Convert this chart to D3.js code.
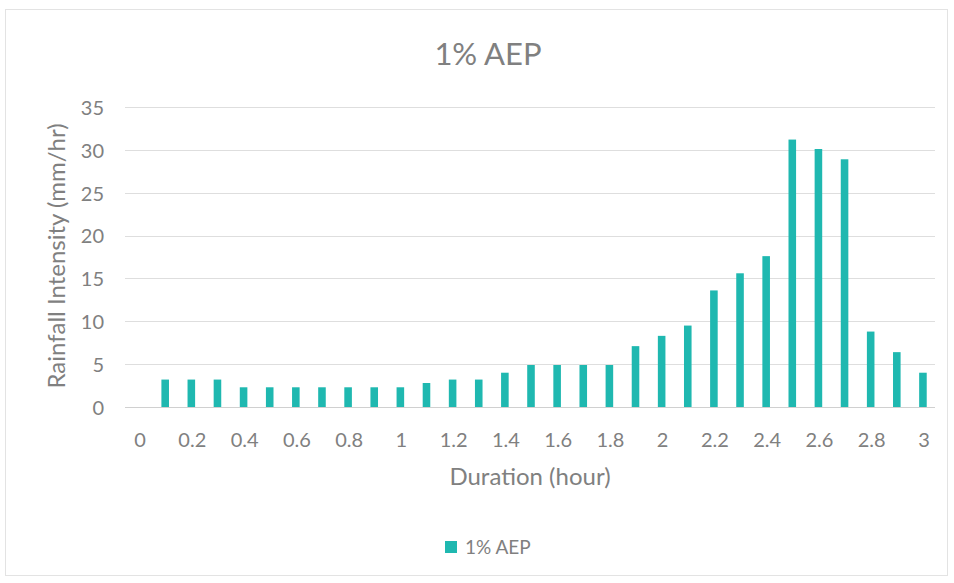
<!DOCTYPE html>
<html>
<head>
<meta charset="utf-8">
<script src="https://cdn.jsdelivr.net/npm/d3@7"></script>
<style>
  html, body { margin: 0; padding: 0; background: #fff; }
  svg { display: block; }
  text { font-family: Lato, "Open Sans", sans-serif; fill: #808080; }
</style>
</head>
<body>
<svg id="chart" width="954" height="583"></svg>
<script>
// Duration categories (hours) and 1% AEP rainfall intensity (mm/hr)
const durations = ["0","0.1","0.2","0.3","0.4","0.5","0.6","0.7","0.8","0.9","1",
  "1.1","1.2","1.3","1.4","1.5","1.6","1.7","1.8","1.9","2",
  "2.1","2.2","2.3","2.4","2.5","2.6","2.7","2.8","2.9","3"];
const intensity = [0, 3.2, 3.2, 3.2, 2.3, 2.3, 2.3, 2.3, 2.3, 2.3, 2.3,
  2.8, 3.2, 3.2, 4.0, 4.9, 4.9, 4.9, 4.9, 7.1, 8.3,
  9.5, 13.6, 15.6, 17.6, 31.2, 30.1, 28.9, 8.8, 6.4, 4.0];
const yTicks = [0, 5, 10, 15, 20, 25, 30, 35];
const xLabelEvery = 2;
const seriesName = "1% AEP";

const svg = d3.select("#chart");
const margin = { left: 125, right: 19, top: 107, bottom: 176 };
const W = 954, H = 583;

// Chart frame
svg.append("rect")
  .attr("x", 5.5).attr("y", 9.5).attr("width", 942).attr("height", 566)
  .attr("fill", "#fff").attr("stroke", "#e3e3e3").attr("stroke-width", 1);

const x = d3.scaleBand()
  .domain(durations)
  .range([margin.left, W - margin.right])
  .paddingInner(0.71).paddingOuter(0.355);

const y = d3.scaleLinear()
  .domain([0, 35])
  .range([H - margin.bottom, margin.top]);

// Horizontal gridlines
svg.append("g")
  .selectAll("line")
  .data(yTicks)
  .join("line")
  .attr("x1", margin.left).attr("x2", W - margin.right)
  .attr("y1", d => Math.round(y(d)) + 0.5).attr("y2", d => Math.round(y(d)) + 0.5)
  .attr("stroke", d => d === 0 ? "#d0d0d0" : "#dedede")
  .attr("stroke-width", 1.2);

// Y axis tick labels
const yAxis = d3.axisLeft(y).tickValues(yTicks).tickSize(0).tickPadding(0);
svg.append("g")
  .attr("transform", `translate(${margin.left - 21},1)`)
  .call(yAxis)
  .call(g => g.select(".domain").remove())
  .selectAll("text")
  .style("font-family", "Lato, 'Open Sans', sans-serif")
  .style("font-size", "20px")
  .attr("fill", "#8a8a8a");

// X axis tick labels (every other category)
const xAxis = d3.axisBottom(x)
  .tickValues(durations.filter((d, i) => i % xLabelEvery === 0))
  .tickSize(0).tickPadding(0);
svg.append("g")
  .attr("transform", `translate(2,${H - margin.bottom + 26})`)
  .call(xAxis)
  .call(g => g.select(".domain").remove())
  .selectAll("text")
  .style("font-family", "Lato, 'Open Sans', sans-serif")
  .style("font-size", "20px")
  .attr("fill", "#8a8a8a");

// Bars
svg.append("g")
  .selectAll("rect")
  .data(durations.map((d, i) => ({ d, v: intensity[i] })))
  .join("rect")
  .attr("x", p => x(p.d) + 1)
  .attr("y", p => y(p.v))
  .attr("width", x.bandwidth())
  .attr("height", p => y(0) - y(p.v))
  .attr("fill", "#1fb8b0");

// Title
svg.append("text")
  .attr("x", 488).attr("y", 65)
  .attr("text-anchor", "middle")
  .style("font-size", "31px")
  .attr("fill", "#777")
  .text(seriesName);

// Axis titles
svg.append("text")
  .attr("x", 530).attr("y", 485)
  .attr("text-anchor", "middle")
  .style("font-size", "24px")
  .text("Duration (hour)");

svg.append("text")
  .attr("transform", "translate(65,256) rotate(-90)")
  .attr("text-anchor", "middle")
  .style("font-size", "24px")
  .text("Rainfall Intensity (mm/hr)");

// Legend
const legend = svg.append("g").attr("transform", "translate(445,541)");
legend.append("rect").attr("width", 12).attr("height", 12).attr("fill", "#1fb8b0");
legend.append("text")
  .attr("x", 20).attr("y", 12.5)
  .style("font-size", "19px")
  .text(seriesName);
</script>
</body>
</html>
